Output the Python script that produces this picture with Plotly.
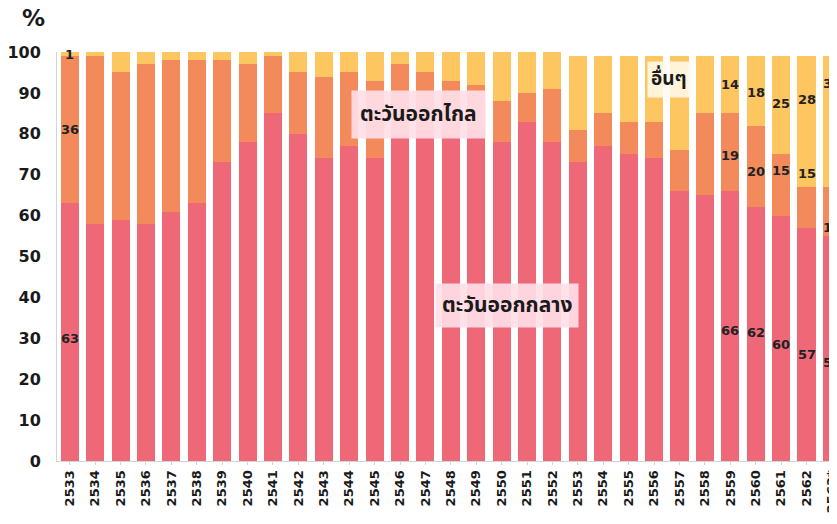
import plotly.graph_objects as go

years = [str(y) for y in range(2533, 2563)] + ["2563*"]
middle_east = [63, 58, 59, 58, 61, 63, 73, 78, 85, 80, 74, 77, 74, 80, 81, 80, 81, 78, 83, 78,
               73, 77, 75, 74, 66, 65, 66, 62, 60, 57, 55]
far_east = [36, 41, 36, 39, 37, 35, 25, 19, 14, 15, 20, 18, 19, 17, 14, 13, 11, 10, 7, 13,
            8, 8, 8, 9, 10, 20, 19, 20, 15, 10, 12]
totals = [100] * 20 + [99] * 11
others = [t - a - b for t, a, b in zip(totals, middle_east, far_east)]

names = ["ตะวันออกกลาง", "ตะวันออกไกล", "อื่นๆ"]
colors = ["#EF6878", "#F28A5C", "#FDC660"]

# printed value labels (year, text)
label_years = ["2533", "2533", "2533", "2559", "2559", "2559", "2560", "2560", "2560",
               "2561", "2561", "2561", "2562", "2562", "2562", "2563*", "2563*", "2563*"]
label_texts = ["1", "36", "63", "14", "19", "66", "18", "20", "62",
               "25", "15", "60", "28", "15", "57", "33", "13", "55"]
label_pos = [99.3, 81, 30, 92, 74.8, 32, 90, 70.7, 31.3,
             87.3, 71, 28.4, 88.5, 70.2, 26, 92.4, 57, 24]

THAI = "Noto Sans Thai, Loma, Tlwg Typo, Noto Sans, DejaVu Sans, sans-serif"
NUM = "DejaVu Sans, Verdana, sans-serif"

fig = go.Figure()
for vals, nm, c in zip([middle_east, far_east, others], names, colors):
    fig.add_trace(go.Bar(x=years, y=vals, name=nm, marker=dict(color=c, line=dict(width=0)),
                         hoverinfo="x+y+name"))

ann = []
for xy, t, p in zip(label_years, label_texts, label_pos):
    ann.append(dict(x=years.index(xy), y=p, xref="x", yref="y", text=t, showarrow=False,
                    font=dict(family=NUM, size=13, color="#222222", weight="bold")))

ann.append(dict(x=13.72, y=84.6, xref="x", yref="y", text="ตะวันออกไกล", showarrow=False,
                font=dict(family=THAI, size=21, color="#1a1a1a", weight="bold"),
                bgcolor="rgba(255,222,232,0.92)", borderpad=8))
ann.append(dict(x=17.22, y=38.1, xref="x", yref="y", text="ตะวันออกกลาง", showarrow=False,
                font=dict(family=THAI, size=21, color="#1a1a1a", weight="bold"),
                bgcolor="rgba(255,222,232,0.92)", borderpad=6))
ann.append(dict(x=23.6, y=93.2, xref="x", yref="y", text="อื่นๆ", showarrow=False,
                font=dict(family=THAI, size=19, color="#1a1a1a", weight="bold"),
                bgcolor="rgba(255,250,240,0.85)", borderpad=3))
ann.append(dict(x=-0.0474, y=1.083, xref="paper", yref="paper", text="%", showarrow=False,
                xanchor="left", yanchor="middle",
                font=dict(family=NUM, size=23, color="#1a1a1a", weight="bold")))

# page body adds an 8px offset, so the figure is sized to fill the rest of the window
fig.update_layout(
    barmode="stack",
    bargap=0.29,
    width=829, height=516,
    margin=dict(l=49, r=0, t=44, b=63, autoexpand=False),
    paper_bgcolor="white", plot_bgcolor="white",
    showlegend=False,
    annotations=ann,
    xaxis=dict(type="category", range=[-0.5, 30.2], tickangle=-90, automargin=False,
               tickfont=dict(family=NUM, size=13, color="#1a1a1a", weight="bold"),
               showline=True, linecolor="#cfd8d0", linewidth=1, ticks="outside",
               ticklen=3, tickcolor="#cfd8d0", showgrid=False),
    yaxis=dict(range=[0, 100], dtick=10, showgrid=False, zeroline=False, automargin=False,
               tickfont=dict(family=NUM, size=16, color="#1a1a1a", weight="bold"),
               showline=True, linecolor="#cfd8d0", linewidth=1, ticks="", ticklabelstandoff=12),
)

fig.write_html("out.html")
